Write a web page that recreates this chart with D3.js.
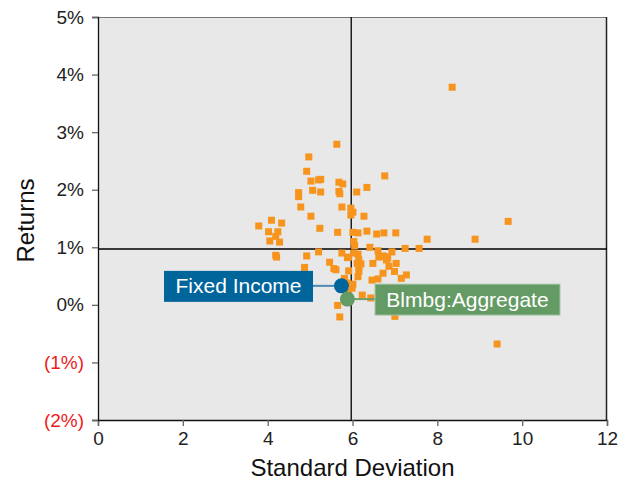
<!DOCTYPE html>
<html><head><meta charset="utf-8">
<script src="https://cdn.jsdelivr.net/npm/d3@7"></script>
<style>body{margin:0;background:#fff;} text{font-family:"Liberation Sans",Arial,sans-serif;}</style>
</head><body><svg id="c" width="631" height="481"></svg>
<script>
// Standard deviation (x) and returns (%) for each fund
const stdDev = [8.35,5.63,4.97,4.92,5.02,5.20,5.25,5.68,5.77,4.73,4.73,5.06,5.25,5.68,5.70,6.76,6.34,6.10,4.78,5.75,5.96,6.01,5.96,6.27,5.02,4.09,4.33,3.79,5.23,4.02,4.24,4.19,4.05,4.28,5.65,6.01,6.13,6.34,6.57,6.74,7.02,7.76,8.89,9.67,6.03,6.05,6.41,6.60,6.93,7.24,7.57,5.91,6.13,6.15,6.72,6.80,6.48,7.03,6.20,6.15,6.86,5.91,6.15,6.13,6.72,6.99,7.27,7.15,6.46,6.60,6.01,5.81,5.99,5.91,6.23,6.43,5.65,5.70,7.00,9.41,4.19,4.21,5.20,4.92,5.75,5.88,5.46,5.56,5.61,4.87,5.88,6.03,6.11,6.76,6.62,6.83];
const returns = [3.78,2.79,2.57,2.32,2.15,2.17,2.18,2.13,2.10,1.95,1.88,1.99,1.96,1.97,1.93,2.24,2.04,1.96,1.70,1.70,1.68,1.61,1.56,1.54,1.54,1.47,1.42,1.37,1.33,1.27,1.27,1.19,1.11,1.09,1.26,1.26,1.25,1.28,1.23,1.25,1.25,1.14,1.14,1.45,1.10,1.03,1.00,0.94,0.92,0.98,0.98,0.83,0.88,0.78,0.85,0.78,0.72,0.72,0.71,0.65,0.67,0.59,0.58,0.49,0.55,0.58,0.52,0.46,0.43,0.45,0.36,0.46,0.29,0.22,0.17,0.12,-0.01,-0.21,-0.20,-0.68,0.86,0.83,0.92,0.85,0.90,0.82,0.74,0.63,0.61,0.65,0.38,0.90,0.72,0.84,0.83,0.81];
const highlightNames = ["Fixed Income","Blmbg:Aggregate"];
const highlightSD = [5.74,5.88];
const highlightRet = [0.33,0.10];
const crossSD = 5.97, crossRet = 0.97;
const xTicks = [0,2,4,6,8,10,12];
const yTicks = [-2,-1,0,1,2,3,4,5];
const yTickLabels = ["(2%)","(1%)","0%","1%","2%","3%","4%","5%"];

const svg = d3.select("#c");
const L=98,R=607,T=17,B=420;
const x = d3.scaleLinear().domain([0,12]).range([L,R]);
const y = d3.scaleLinear().domain([-2,5]).range([B,T]);

svg.append("rect").attr("x",L).attr("y",T).attr("width",R-L).attr("height",B-T).attr("fill","#e8e8e8");
svg.append("line").attr("x1",L).attr("x2",R).attr("y1",T+0.5).attr("y2",T+0.5).attr("stroke","#777");
svg.append("line").attr("x1",R-0.5).attr("x2",R-0.5).attr("y1",T).attr("y2",B).attr("stroke","#222").attr("stroke-width",1.5);

// crosshair
svg.append("line").attr("x1",x(crossSD)).attr("x2",x(crossSD)).attr("y1",T).attr("y2",B).attr("stroke","#000").attr("stroke-width",1.3);
svg.append("line").attr("x1",L).attr("x2",R).attr("y1",y(crossRet)).attr("y2",y(crossRet)).attr("stroke","#000").attr("stroke-width",1.3);

// axes
const xa = svg.append("g").attr("transform",`translate(0,${B})`).call(d3.axisBottom(x).tickValues(xTicks).tickSize(6).tickPadding(6));
const ya = svg.append("g").attr("transform",`translate(${L},0)`).call(d3.axisLeft(y).tickValues(yTicks).tickFormat((d,i)=>yTickLabels[i]).tickSize(6).tickPadding(8));
[xa,ya].forEach(a=>{
  a.select(".domain").attr("stroke","#111").attr("stroke-width",1.3);
  a.selectAll(".tick line").attr("stroke","#666").attr("stroke-width",1.3);
  a.selectAll(".tick text").attr("font-size",19).attr("fill","#222").style("font-family","Liberation Sans, Arial, sans-serif");
});
ya.selectAll(".tick text").attr("fill",d=>d<0?"#ee1c1c":"#222");

svg.append("text").attr("x",(L+R)/2).attr("y",476).attr("text-anchor","middle").attr("font-size",24).attr("fill","#111").text("Standard Deviation");
svg.append("text").attr("transform",`translate(34,${(T+B)/2+2}) rotate(-90)`).attr("text-anchor","middle").attr("font-size",24).attr("fill","#111").text("Returns");

// points
const pts = stdDev.map((s,i)=>({s,r:returns[i]}));
svg.append("g").selectAll("rect").data(pts).enter().append("rect")
  .attr("x",d=>x(d.s)-3.5).attr("y",d=>y(d.r)-3.5).attr("width",7).attr("height",7).attr("fill","#f7941d");

// highlighted
const fiX=x(highlightSD[0]), fiY=y(highlightRet[0]);
const agX=x(highlightSD[1]), agY=y(highlightRet[1]);
svg.append("line").attr("x1",313).attr("x2",fiX).attr("y1",fiY).attr("y2",fiY).attr("stroke","#4a8ab5").attr("stroke-width",2);
svg.append("rect").attr("x",164).attr("y",fiY-15).attr("width",149).attr("height",31).attr("fill","#00659b");
svg.append("text").attr("x",238.5).attr("y",fiY+7.5).attr("text-anchor","middle").attr("font-size",21).attr("fill","#fff").text(highlightNames[0]);
svg.append("circle").attr("cx",fiX).attr("cy",fiY).attr("r",7.5).attr("fill","#00659b");

svg.append("line").attr("x1",agX).attr("x2",375).attr("y1",agY).attr("y2",agY).attr("stroke","#6f9f6f").attr("stroke-width",2);
svg.append("rect").attr("x",375).attr("y",agY-15).attr("width",185).attr("height",31).attr("fill","#649a64").attr("stroke","#a8c8a8").attr("stroke-width",1);
svg.append("text").attr("x",467.5).attr("y",agY+8).attr("text-anchor","middle").attr("font-size",21).attr("fill","#fff").text(highlightNames[1]);
svg.append("circle").attr("cx",agX).attr("cy",agY).attr("r",7.5).attr("fill","#649a64");
</script></body></html>
